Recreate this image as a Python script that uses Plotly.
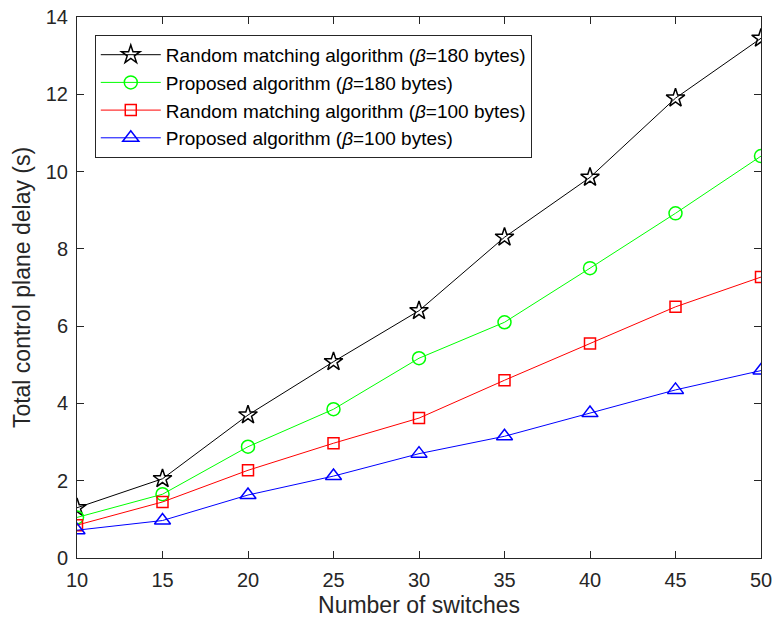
import plotly.graph_objects as go

switches = [10, 15, 20, 25, 30, 35, 40, 45, 50]
random_180 = [1.3, 2.05, 3.7, 5.08, 6.4, 8.3, 9.85, 11.9, 13.45]
proposed_180 = [1.05, 1.65, 2.88, 3.85, 5.17, 6.1, 7.5, 8.92, 10.4]
random_100 = [0.85, 1.45, 2.27, 2.97, 3.62, 4.6, 5.55, 6.5, 7.27]
proposed_100 = [0.72, 0.97, 1.63, 2.12, 2.7, 3.15, 3.75, 4.35, 4.85]
y_ticks = [0, 2, 4, 6, 8, 10, 12, 14]

names = [
    "Random matching algorithm (<i>β</i>=180 bytes)",
    "Proposed algorithm (<i>β</i>=180 bytes)",
    "Random matching algorithm (<i>β</i>=100 bytes)",
    "Proposed algorithm (<i>β</i>=100 bytes)",
]
series = [random_180, proposed_180, random_100, proposed_100]
colors = ["#000000", "#00ff00", "#ff0000", "#0000ff"]
symbols = ["star-open", "circle-open", "square-open", "triangle-up-open"]
sizes = [14, 13, 11, 14]

FONT = "Liberation Sans, Arial, Helvetica, sans-serif"
AX = "#262626"

fig = go.Figure()
for n, s, c, sym, sz in zip(names, series, colors, symbols, sizes):
    fig.add_trace(go.Scatter(
        x=switches, y=s, name=n, mode="lines+markers",
        line=dict(color=c, width=1),
        marker=dict(symbol=sym, size=sz, color=c, line=dict(color=c, width=1.5)),
    ))

axis_common = dict(
    showline=True, linecolor=AX, linewidth=1, mirror="ticks",
    ticks="inside", ticklen=7, tickcolor=AX, showgrid=False, zeroline=False,
    automargin=False, ticklabelstandoff=4, ticklabeloverflow="allow",
    tickfont=dict(family=FONT, size=20, color=AX),
)
fig.update_xaxes(range=[10, 50], tickvals=switches,
                 title=dict(text="Number of switches", font=dict(family=FONT, size=23, color=AX), standoff=6),
                 **axis_common)
fig.update_yaxes(range=[0, 14], tickvals=y_ticks,
                 title=dict(text="Total control plane delay (s)", font=dict(family=FONT, size=23, color=AX), standoff=8),
                 **axis_common)

fig.update_layout(
    width=772, height=624,
    margin=dict(l=77, r=11, t=17, b=66),
    plot_bgcolor="white", paper_bgcolor="white",
    font=dict(family=FONT, color="#000000"),
    showlegend=True,
    legend=dict(x=0.026, y=0.967, xanchor="left", yanchor="top",
                bgcolor="white", bordercolor=AX, borderwidth=1,
                font=dict(family=FONT, size=19, color="#000000"), tracegroupgap=0,
                itemwidth=60),
)

fig.write_html("out.html")
